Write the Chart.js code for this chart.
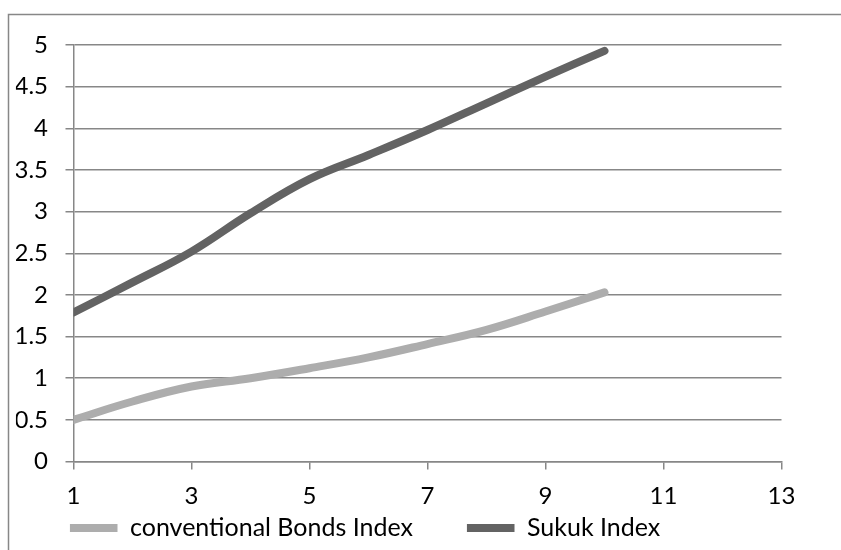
<!DOCTYPE html>
<html>
<head>
<meta charset="utf-8">
<script src="https://cdn.jsdelivr.net/npm/chart.js@4/dist/chart.umd.min.js"></script>
<style>
  html, body { margin: 0; padding: 0; background: #ffffff; overflow: hidden; }
  #wrap { position: relative; width: 841px; height: 550px; }
</style>
</head>
<body>
<div id="wrap"><canvas id="c" width="841" height="550"></canvas></div>
<script>
// ---- data ----
const xValues = [1, 2, 3, 4, 5, 6, 7, 8, 9, 10];
const conventionalBonds = [0.50, 0.72, 0.90, 1.00, 1.12, 1.25, 1.41, 1.58, 1.80, 2.03];
const sukuk = [1.79, 2.15, 2.52, 2.98, 3.39, 3.68, 3.98, 4.30, 4.62, 4.93];
const seriesNames = ['conventional Bonds Index', 'Sukuk Index'];
const yTickRange = [0, 5, 0.5];   // min, max, step
const xTickRange = [1, 13, 2];    // min, max, step

// ---- style / layout ----
const FONT = 'Lato';
const LEG_FS = 25;
const TICK_FS = 24;
const GRID = '#878787';
const LIGHT = '#adadad';
const DARK = '#636363';

const areaLeft = 73.5, areaRight = 781.5, areaTop = 45, areaBottom = 461.5;
const legendCenterY = 528;
const legendPad = legendCenterY - LEG_FS / 2 - areaBottom;   // vertical offset of legend row

// measure first legend text to place the second entry like the reference
const mctx = document.createElement('canvas').getContext('2d');
mctx.font = LEG_FS + 'px ' + FONT;
const T1 = mctx.measureText(seriesNames[0]).width;
const text1X = 130, text2X = 527;
const PSW = Math.max(30, (text2X - text1X) - LEG_FS / 2 - T1 - legendPad);
const padLeft = text1X - LEG_FS / 2 - PSW - legendPad;
const legendH = 550 - areaBottom;

const toPoints = arr => arr.map((v, i) => ({ x: xValues[i], y: v }));

const framePlugin = {
  id: 'frame',
  beforeDraw(chart) {
    const ctx = chart.ctx;
    ctx.save();
    ctx.strokeStyle = GRID;
    ctx.lineWidth = 1.5;
    ctx.beginPath();
    ctx.moveTo(8.5, 550);
    ctx.lineTo(8.5, 14.5);
    ctx.lineTo(841, 14.5);
    ctx.stroke();
    ctx.restore();
  }
};

new Chart(document.getElementById('c'), {
  type: 'line',
  data: {
    datasets: [
      {
        label: seriesNames[0],
        data: toPoints(conventionalBonds),
        borderColor: LIGHT,
        backgroundColor: LIGHT,
        borderWidth: 8,
        borderCapStyle: 'round',
        borderJoinStyle: 'round',
        tension: 0.4,
        pointRadius: 0,
        fill: false
      },
      {
        label: seriesNames[1],
        data: toPoints(sukuk),
        borderColor: DARK,
        backgroundColor: DARK,
        borderWidth: 8,
        borderCapStyle: 'round',
        borderJoinStyle: 'round',
        tension: 0.4,
        pointRadius: 0,
        fill: false
      }
    ]
  },
  options: {
    responsive: false,
    animation: false,
    devicePixelRatio: 1,
    layout: {
      padding: { left: padLeft, right: 841 - areaRight, top: areaTop, bottom: 0 }
    },
    plugins: {
      tooltip: { enabled: false },
      legend: {
        position: 'bottom',
        align: 'start',
        maxHeight: legendH,
        labels: {
          usePointStyle: true,
          pointStyle: 'line',
          pointStyleWidth: PSW,
          padding: legendPad,
          color: '#000000',
          font: { family: FONT, size: LEG_FS }
        }
      }
    },
    scales: {
      x: {
        type: 'linear',
        position: { y: 0 },
        min: xTickRange[0],
        max: xTickRange[1],
        afterBuildTicks(scale) {
          const t = [];
          for (let v = xTickRange[0]; v <= xTickRange[1] + 1e-9; v += xTickRange[2]) t.push({ value: v });
          scale.ticks = t;
        },
        afterFit(scale) { scale.height = 0; },
        grid: { drawOnChartArea: false, drawTicks: true, tickLength: 7, color: GRID, lineWidth: 1.5 },
        border: { display: true, color: GRID, width: 1.5 },
        ticks: {
          padding: 13,
          color: '#000000',
          font: { family: FONT, size: TICK_FS },
          maxRotation: 0,
          autoSkip: false
        }
      },
      y: {
        min: yTickRange[0],
        max: yTickRange[1],
        afterFit(scale) { scale.width = areaLeft - padLeft; },
        grid: { drawOnChartArea: true, drawTicks: true, tickLength: 8, color: GRID, lineWidth: 1.5 },
        border: { display: true, color: GRID, width: 1.5 },
        ticks: {
          stepSize: yTickRange[2],
          padding: 17.5,
          color: '#000000',
          font: { family: FONT, size: TICK_FS },
          callback: v => String(Math.round(v * 10) / 10)
        }
      }
    }
  },
  plugins: [framePlugin]
});
</script>
</body>
</html>
